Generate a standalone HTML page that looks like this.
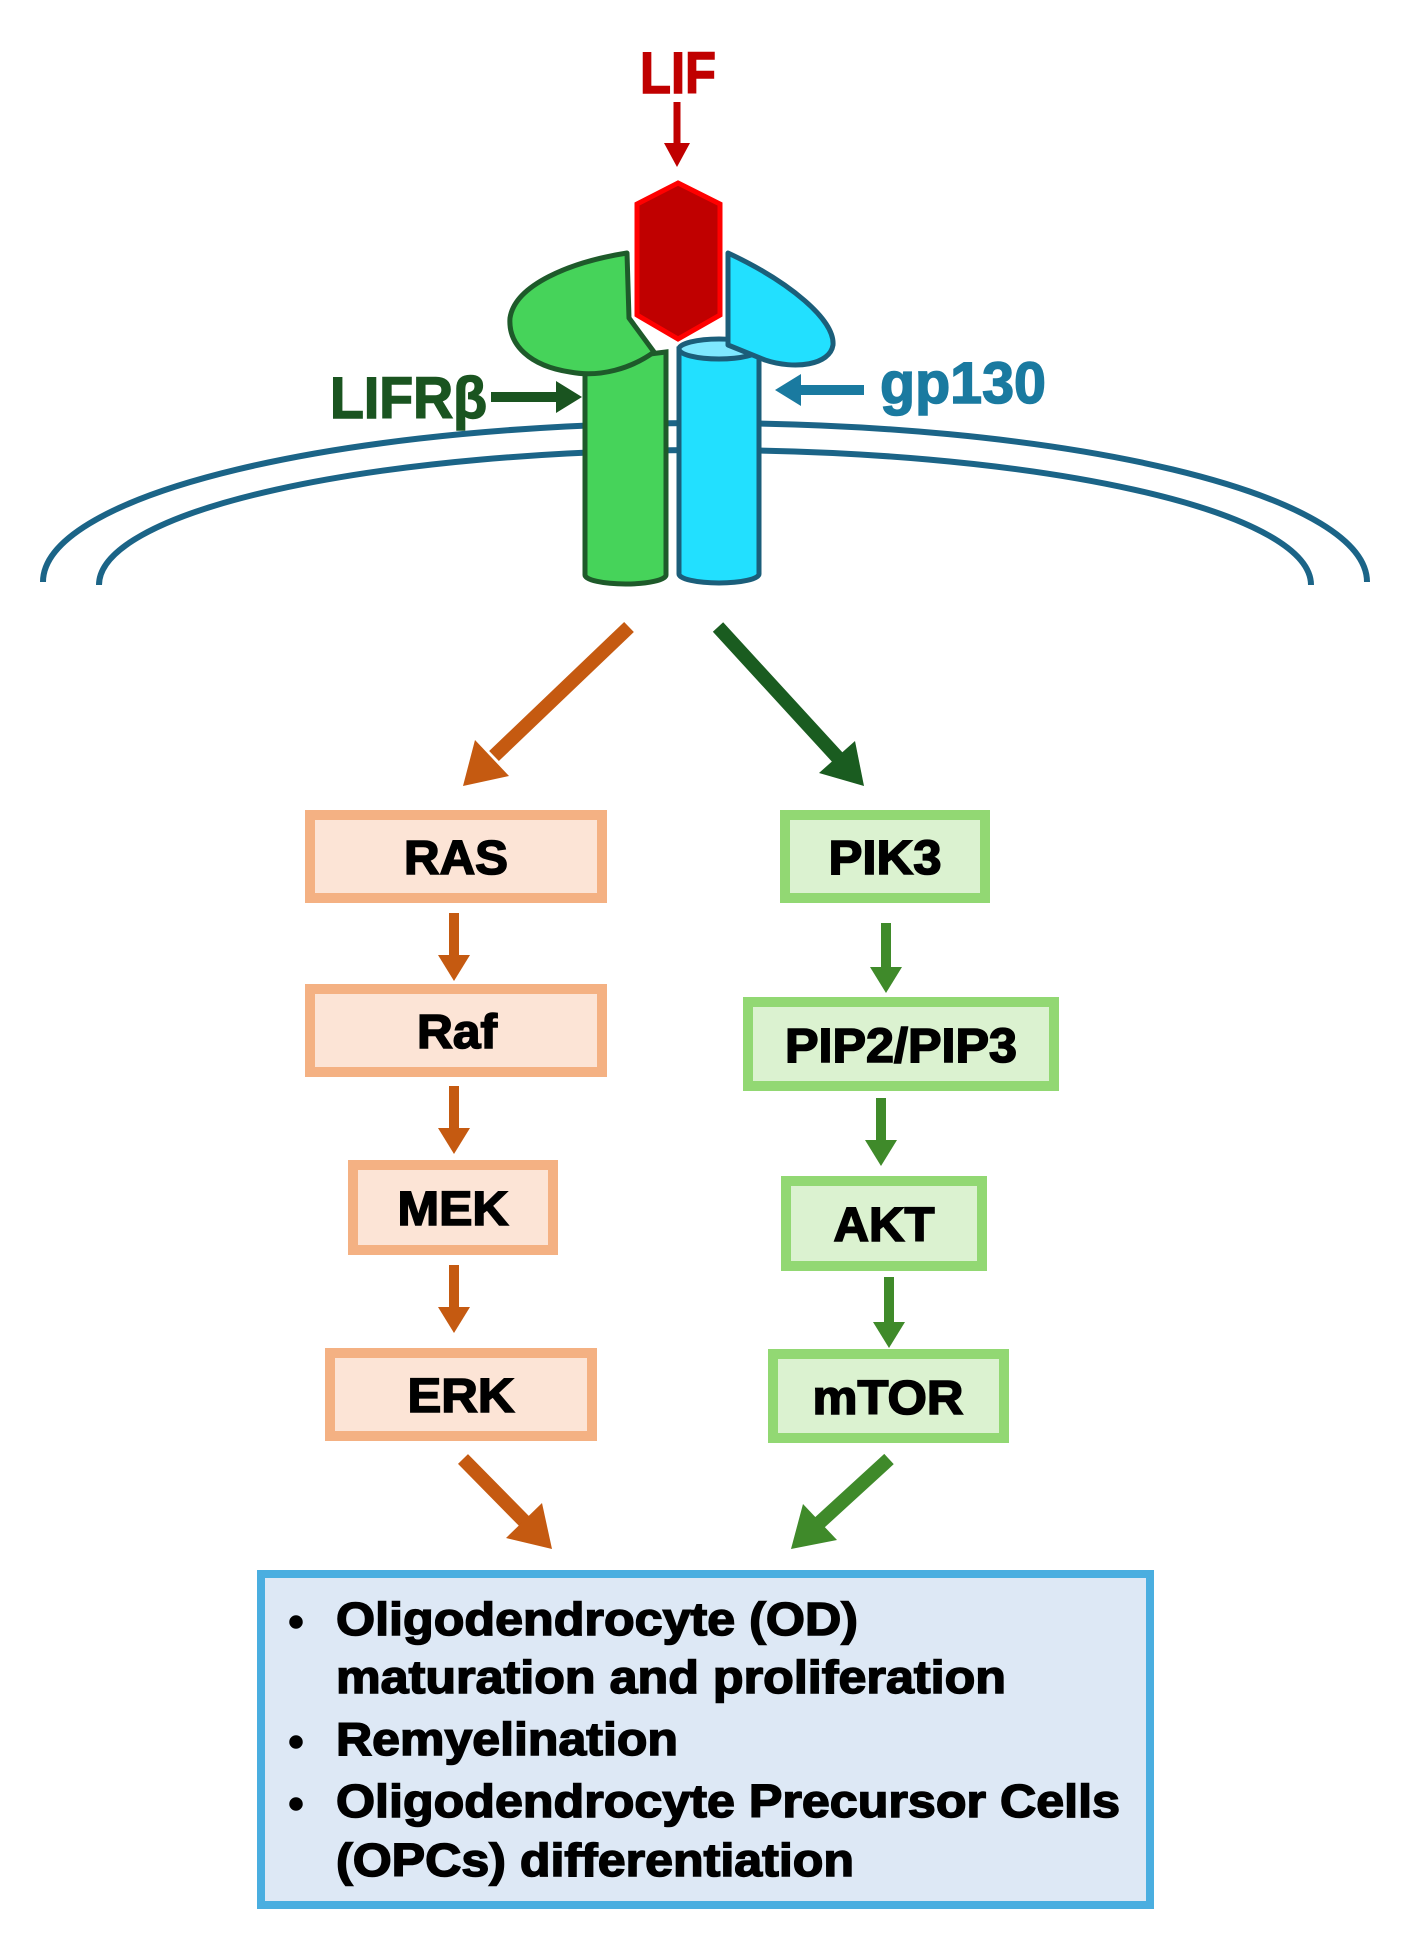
<!DOCTYPE html>
<html><head><meta charset="utf-8"><style>
html,body{margin:0;padding:0;background:#fff;}
svg{display:block;}
text{font-family:"Liberation Sans",Arial,sans-serif;font-weight:bold;}
</style></head><body>
<svg width="1407" height="1951" viewBox="0 0 1407 1951" xmlns="http://www.w3.org/2000/svg">
<rect width="1407" height="1951" fill="#fff"/>
<!-- LIF -->
<text x="640" y="93" font-size="58" fill="#c00000" stroke="#c00000" stroke-width="1.5" textLength="76" lengthAdjust="spacingAndGlyphs">LIF</text>
<line x1="677" y1="102" x2="677" y2="147" stroke="#c00000" stroke-width="7"/>
<polygon points="664,143 690,143 677,167" fill="#c00000"/>
<!-- membrane -->
<path d="M43,582 A662,159 0 0 1 1367,582" fill="none" stroke="#1b6487" stroke-width="6"/>
<path d="M99,585 A606,135 0 0 1 1311,585" fill="none" stroke="#1b6487" stroke-width="6"/>
<!-- green cylinder -->
<path d="M585,362 L585,575 A40.5,9 0 0 0 666,575 L666,352 Z" fill="#46d35a" stroke="#1e5a2a" stroke-width="5"/>
<!-- blue cylinder -->
<path d="M679,349 L679,574 A40,9 0 0 0 759,574 L759,349 Z" fill="#22e0ff" stroke="#1b5e7a" stroke-width="5"/>
<ellipse cx="719" cy="349" rx="40" ry="10" fill="#7ee8ff" stroke="#1b5e7a" stroke-width="5"/>
<!-- green head -->
<path d="M627,253 L629,318 L654,352 C632,368 600,378 570,372 C530,366 508,345 510,318 C515,285 570,262 627,253 Z" fill="#46d35a" stroke="#1e5a2a" stroke-width="5" stroke-linejoin="round"/>
<!-- blue head -->
<path d="M728,253 C790,282 835,320 833,345 C830,365 795,370 765,360 L728,345 Z" fill="#22e0ff" stroke="#1b5e7a" stroke-width="5" stroke-linejoin="round"/>
<!-- LIF hexagon -->
<path d="M678,183 L720,204 L720,315 L678,339 L637,315 L637,204 Z" fill="#c00000" stroke="#ff0000" stroke-width="5"/>
<!-- labels -->
<text x="330" y="418" font-size="58" fill="#1a5420" stroke="#1a5420" stroke-width="1.5" textLength="157" lengthAdjust="spacingAndGlyphs">LIFRβ</text>
<line x1="491" y1="397" x2="560" y2="397" stroke="#1a5420" stroke-width="10"/>
<polygon points="556,381 556,413 582,397" fill="#1a5420"/>
<text x="880" y="403" font-size="58" fill="#1a7aa0" stroke="#1a7aa0" stroke-width="1.5" textLength="166" lengthAdjust="spacingAndGlyphs">gp130</text>
<line x1="864" y1="390" x2="798" y2="390" stroke="#1a7aa0" stroke-width="10"/>
<polygon points="801,374 801,406 775,390" fill="#1a7aa0"/>
<!-- big arrows -->
<line x1="629" y1="627" x2="494" y2="756" stroke="#c55a11" stroke-width="14"/>
<polygon points="509,776 475,740 463,786" fill="#c55a11"/>
<line x1="718" y1="627" x2="839" y2="759" stroke="#1a5c20" stroke-width="14"/>
<polygon points="855,741 819,773 864,786" fill="#1a5c20"/>
<!-- boxes -->
<g fill="#fce4d6" stroke="#f4b183" stroke-width="10">
<rect x="310" y="815" width="292" height="83"/>
<rect x="310" y="989" width="292" height="83"/>
<rect x="353" y="1165" width="200" height="85"/>
<rect x="330" y="1353" width="262" height="83"/>
</g>
<g fill="#dbf2d0" stroke="#92d873" stroke-width="10">
<rect x="785" y="815" width="200" height="83"/>
<rect x="748" y="1002" width="306" height="84"/>
<rect x="786" y="1181" width="196" height="85"/>
<rect x="773" y="1354" width="231" height="84"/>
</g>
<g font-size="48" fill="#000" stroke="#000" stroke-width="1.6" text-anchor="middle">
<text x="456" y="874" textLength="104" lengthAdjust="spacingAndGlyphs">RAS</text>
<text x="457" y="1048" textLength="80" lengthAdjust="spacingAndGlyphs">Raf</text>
<text x="453" y="1225" textLength="111" lengthAdjust="spacingAndGlyphs">MEK</text>
<text x="461" y="1412" textLength="107" lengthAdjust="spacingAndGlyphs">ERK</text>
<text x="885" y="874" textLength="113" lengthAdjust="spacingAndGlyphs">PIK3</text>
<text x="901" y="1062" textLength="232" lengthAdjust="spacingAndGlyphs">PIP2/PIP3</text>
<text x="884" y="1241" textLength="101" lengthAdjust="spacingAndGlyphs">AKT</text>
<text x="888" y="1414" textLength="151" lengthAdjust="spacingAndGlyphs">mTOR</text>
</g>
<!-- small arrows -->
<g stroke="#c55a11" stroke-width="10">
<line x1="454" y1="913" x2="454" y2="959"/>
<line x1="454" y1="1086" x2="454" y2="1132"/>
<line x1="454" y1="1265" x2="454" y2="1311"/>
</g>
<g fill="#c55a11">
<polygon points="438,955 470,955 454,981"/>
<polygon points="438,1128 470,1128 454,1154"/>
<polygon points="438,1307 470,1307 454,1333"/>
</g>
<g stroke="#3f8a2a" stroke-width="10">
<line x1="886" y1="923" x2="886" y2="971"/>
<line x1="881" y1="1098" x2="881" y2="1144"/>
<line x1="889" y1="1277" x2="889" y2="1326"/>
</g>
<g fill="#3f8a2a">
<polygon points="870,967 902,967 886,993"/>
<polygon points="865,1140 897,1140 881,1166"/>
<polygon points="873,1322 905,1322 889,1348"/>
</g>
<!-- bottom arrows -->
<line x1="463" y1="1459" x2="526" y2="1523" stroke="#c55a11" stroke-width="14"/>
<polygon points="542,1503 506,1538 552,1549" fill="#c55a11"/>
<line x1="889" y1="1459" x2="818" y2="1524" stroke="#3f8a2a" stroke-width="14"/>
<polygon points="837,1540 803,1504 791,1549" fill="#3f8a2a"/>
<!-- result box -->
<rect x="261" y="1574" width="889" height="331" fill="#dde8f5" stroke="#4aaee0" stroke-width="8"/>
<g font-size="46" fill="#000" stroke="#000" stroke-width="1.5">
<circle cx="296" cy="1622" r="6"/>
<circle cx="296" cy="1742" r="6"/>
<circle cx="296" cy="1804" r="6"/>
<text x="336" y="1635" textLength="522" lengthAdjust="spacingAndGlyphs">Oligodendrocyte (OD)</text>
<text x="336" y="1693" textLength="670" lengthAdjust="spacingAndGlyphs">maturation and proliferation</text>
<text x="336" y="1755" textLength="342" lengthAdjust="spacingAndGlyphs">Remyelination</text>
<text x="336" y="1817" textLength="784" lengthAdjust="spacingAndGlyphs">Oligodendrocyte Precursor Cells</text>
<text x="336" y="1876" textLength="518" lengthAdjust="spacingAndGlyphs">(OPCs) differentiation</text>
</g>
</svg>
</body></html>
